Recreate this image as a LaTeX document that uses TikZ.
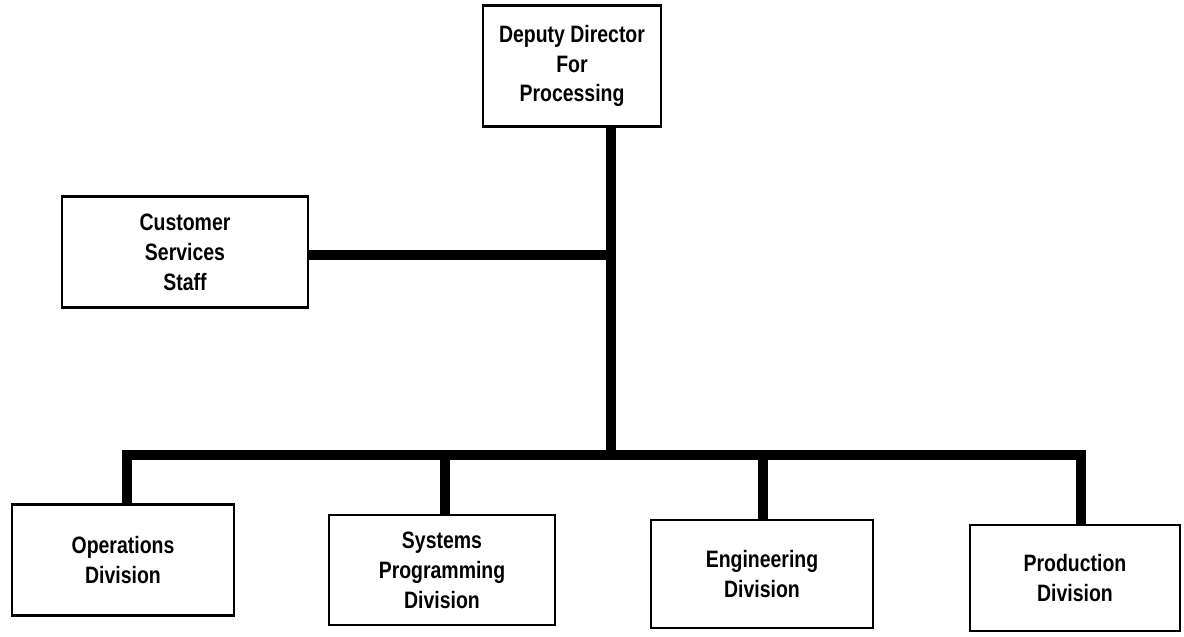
\documentclass[tikz,border=0pt]{standalone}
\usepackage{fontspec}
\setmainfont{Liberation Sans}[FakeStretch=0.82]
\usepackage{tikz}

\begin{document}
\begin{tikzpicture}[x=0.02cm,y=-0.02cm,line join=miter,
                    bar/.style={line width=6.2pt},
                    font=\bfseries\fontsize{13.5}{17}\selectfont]

  \tikzstyle{every node}=[rectangle,draw,line width=1.3pt,align=center,inner sep=0pt]

  \useasboundingbox (0,0) rectangle (1184,636);

  \node[minimum width=178*0.02cm,minimum height=121*0.02cm] (DD) at (572,66)  {Deputy Director\\For\\Processing};
  \node[minimum width=246*0.02cm,minimum height=111*0.02cm] (CS) at (185,252) {Customer\\Services\\Staff};

  \node[minimum width=222*0.02cm,minimum height=111*0.02cm] (OD) at (123,560)  {Operations\\Division};
  \node[minimum width=226*0.02cm,minimum height=110*0.02cm] (SP) at (442,570)  {Systems\\Programming\\Division};
  \node[minimum width=222*0.02cm,minimum height=108*0.02cm] (ED) at (762,574)  {Engineering\\Division};
  \node[minimum width=210*0.02cm,minimum height=106*0.02cm] (PD) at (1075,578) {Production\\Division};

  \coordinate (T1) at (611,255);
  \coordinate (T2) at (611,455);

  \draw[bar] (DD.south -| T1) -- (T2);
  \draw[bar] (CS.east) ++(0,3) -- (T1);
  \draw[bar] (OD.north -| 127,0) |- (T2) -| (PD.north -| 1081,0);
  \draw[bar] (SP.north -| 445,0) -- (445,455);
  \draw[bar] (ED.north -| 763,0) -- (763,455);
\end{tikzpicture}
\end{document}
